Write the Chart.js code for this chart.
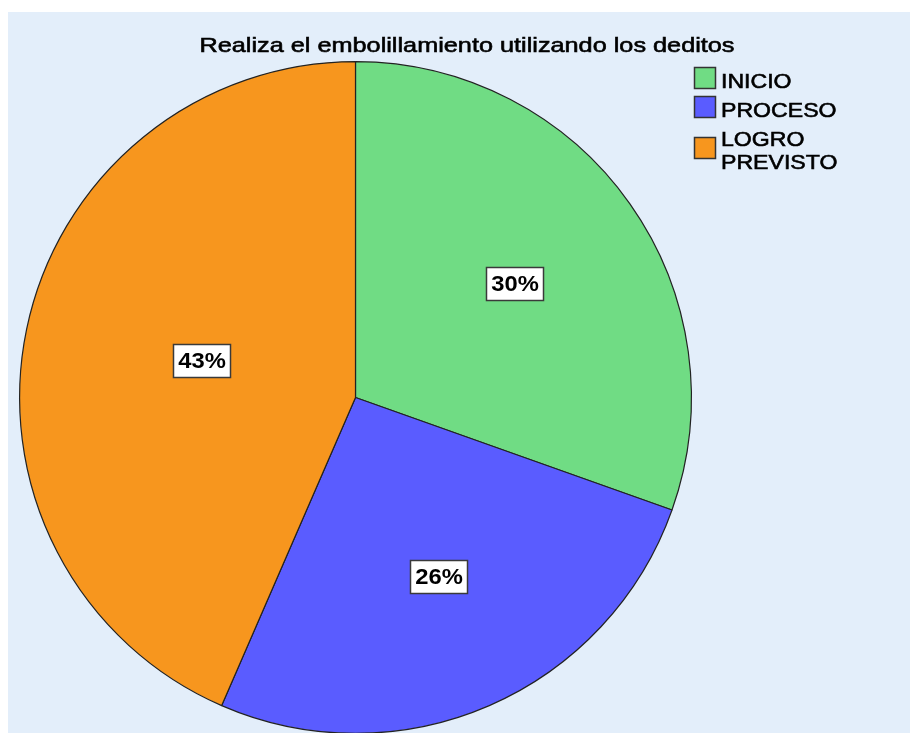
<!DOCTYPE html>
<html>
<head>
<meta charset="utf-8">
<script src="https://cdn.jsdelivr.net/npm/chart.js@4"></script>
<style>
  html, body { margin: 0; padding: 0; background: #ffffff; overflow: hidden; width: 910px; height: 733px; }
  #panel { position: absolute; left: 8px; top: 12px; width: 902px; height: 780px; background: #E3EEFA; }
  #wrap { position: absolute; left: 0; top: 0; width: 910px; height: 780px; }
</style>
</head>
<body>
<div id="panel"></div>
<div id="wrap"><canvas id="c" width="910" height="780"></canvas></div>
<script>
const chartTitle = 'Realiza el embolillamiento utilizando los deditos';
const categories = ['INICIO', 'PROCESO', 'LOGRO PREVISTO'];
const counts = [7, 6, 10];
const sliceColors = ['#70DC84', '#5A5CFF', '#F7961E'];

const total = counts.reduce((a, b) => a + b, 0);
const FONT = '"Liberation Sans", Arial, sans-serif';

// draw text stretched horizontally, with an optional thin outline for weight
function stretchedText(ctx, txt, x, y, sx, align, heavy) {
  ctx.save();
  ctx.translate(x, y);
  ctx.scale(sx, 1);
  ctx.textAlign = align;
  ctx.fillText(txt, 0, 0);
  if (heavy) {
    ctx.lineWidth = heavy;
    ctx.strokeStyle = ctx.fillStyle;
    ctx.strokeText(txt, 0, 0);
  }
  ctx.restore();
}

const titlePlugin = {
  id: 'spssTitle',
  afterDraw(chart) {
    const ctx = chart.ctx;
    ctx.save();
    ctx.font = '21px ' + FONT;
    ctx.fillStyle = '#000';
    ctx.textBaseline = 'alphabetic';
    const w = ctx.measureText(chartTitle).width;
    stretchedText(ctx, chartTitle, 467, 52, 535 / w, 'center', 0.6);
    ctx.restore();
  }
};

const legendPlugin = {
  id: 'spssLegend',
  afterDraw(chart) {
    const ctx = chart.ctx;
    ctx.save();
    ctx.font = '21px ' + FONT;
    ctx.textBaseline = 'alphabetic';
    let y = 69;
    const lineH = 23;
    categories.forEach((cat, i) => {
      const words = cat.split(' ');
      const lines = [];
      let cur = '';
      words.forEach(w => {
        const t = cur ? cur + ' ' + w : w;
        if (cur && ctx.measureText(t).width > 120) { lines.push(cur); cur = w; } else cur = t;
      });
      lines.push(cur);
      ctx.fillStyle = '#000';
      lines.forEach((ln, j) => stretchedText(ctx, ln, 721, y + 19 + lineH * j, 1.1, 'left', 0.6));
      const capMid = y + 11 + (lines.length - 1) * lineH / 2;
      const sqTop = Math.round(capMid - 2 - 11);
      ctx.fillStyle = sliceColors[i];
      ctx.fillRect(694, sqTop, 22, 22);
      ctx.strokeStyle = '#333';
      ctx.lineWidth = 1.5;
      ctx.strokeRect(694.5, sqTop + 0.5, 21, 21);
      y += 29 + (lines.length - 1) * lineH;
    });
    ctx.restore();
  }
};

const labelPlugin = {
  id: 'sliceLabels',
  afterDatasetsDraw(chart) {
    const ctx = chart.ctx;
    const meta = chart.getDatasetMeta(0);
    ctx.save();
    ctx.font = 'bold 22px ' + FONT;
    ctx.textBaseline = 'middle';
    meta.data.forEach((arc, i) => {
      const p = arc.getProps(['x', 'y', 'startAngle', 'endAngle', 'outerRadius']);
      const theta = p.endAngle - p.startAngle;
      const mid = (p.startAngle + p.endAngle) / 2;
      const d = 2 * p.outerRadius * Math.sin(theta / 2) / (3 * theta / 2);
      const cx = p.x + Math.cos(mid) * d + 3;
      const cy = p.y + Math.sin(mid) * d - 4;
      const txt = Math.round(counts[i] / total * 100) + '%';
      const w = 57, h = 33;
      const bx = Math.round(cx - w / 2), by = Math.round(cy - h / 2);
      ctx.fillStyle = '#ffffff';
      ctx.fillRect(bx, by, w, h);
      ctx.strokeStyle = '#3a3a3a';
      ctx.lineWidth = 1.5;
      ctx.strokeRect(bx + 0.5, by + 0.5, w, h);
      ctx.fillStyle = '#000';
      stretchedText(ctx, txt, bx + w / 2 + 0.5, by + h / 2 + 1.5, 1.08, 'center', 0);
    });
    ctx.restore();
  }
};

new Chart(document.getElementById('c'), {
  type: 'pie',
  data: {
    labels: categories,
    datasets: [{
      data: counts,
      backgroundColor: sliceColors,
      borderColor: '#222',
      borderWidth: 1.2,
      borderAlign: 'center'
    }]
  },
  options: {
    responsive: false,
    animation: false,
    events: [],
    layout: { padding: { left: 19, top: 61, right: 218, bottom: 46 } },
    plugins: {
      legend: { display: false },
      title: { display: false },
      tooltip: { enabled: false }
    }
  },
  plugins: [titlePlugin, legendPlugin, labelPlugin]
});
</script>
</body>
</html>
